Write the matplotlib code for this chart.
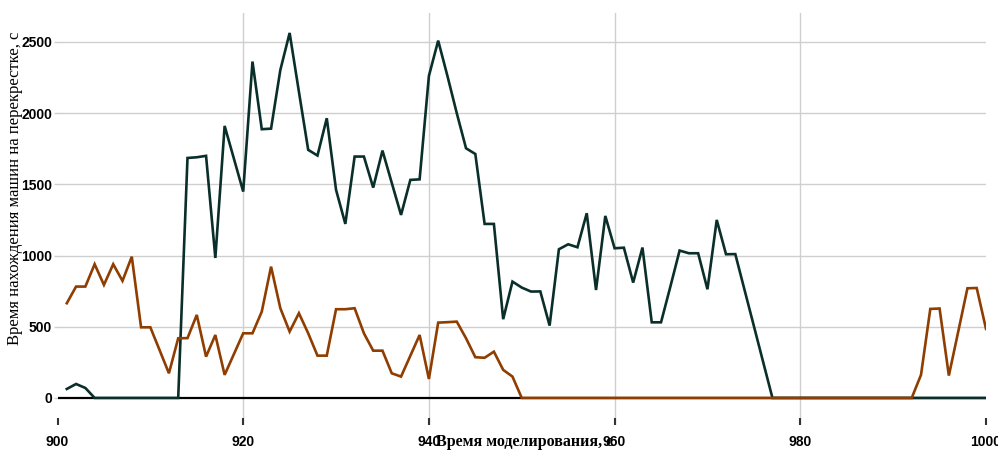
import matplotlib
matplotlib.use("Agg")
import matplotlib.pyplot as plt
import numpy as np

# time axis, seconds
time_s = list(range(901, 1001))

# dark series
dark_values = [63, 98, 70, 0, 0, 0, 0, 0, 0, 0,            # 901-910
               0, 0, 0, 1685, 1690, 1700, 983, 1910, 1680, 1449,   # 911-920
               2362, 1887, 1891, 2303, 2563, 2150, 1742, 1702, 1964, 1461,  # 921-930
               1222, 1695, 1695, 1477, 1737, 1510, 1285, 1531, 1535, 2261,  # 931-940
               2509, 2260, 2000, 1753, 1713, 1222, 1222, 553, 817, 775,    # 941-950
               747, 748, 508, 1044, 1079, 1058, 1297, 758, 1278, 1051,     # 951-960
               1055, 810, 1056, 531, 531, 780, 1035, 1016, 1016, 763,      # 961-970
               1250, 1009, 1010, 757, 505, 252, 0, 0, 0, 0,                # 971-980
               0, 0, 0, 0, 0, 0, 0, 0, 0, 0,                               # 981-990
               0, 0, 0, 0, 0, 0, 0, 0, 0, 0]                               # 991-1000

# orange series
orange_values = [665, 782, 782, 939, 794, 939, 822, 992, 496, 496,   # 901-910
                 335, 173, 419, 420, 583, 290, 442, 162, 308, 454,   # 911-920
                 454, 606, 922, 630, 466, 595, 454, 297, 297, 623,   # 921-930
                 623, 630, 454, 332, 332, 173, 150, 296, 442, 133,   # 931-940
                 529, 532, 536, 419, 286, 282, 325, 197, 150, 0,     # 941-950
                 0, 0, 0, 0, 0, 0, 0, 0, 0, 0,                       # 951-960
                 0, 0, 0, 0, 0, 0, 0, 0, 0, 0,                       # 961-970
                 0, 0, 0, 0, 0, 0, 0, 0, 0, 0,                       # 971-980
                 0, 0, 0, 0, 0, 0, 0, 0, 0, 0,                       # 981-990
                 0, 0, 162, 625, 628, 157, 463, 770, 772, 485]       # 991-1000

x_ticks = [900, 920, 940, 960, 980, 1000]
y_ticks = [0, 500, 1000, 1500, 2000, 2500]
x_label = "Время моделирования, с"
y_label = "Время нахождения машин на перекрестке, с"

fig = plt.figure(figsize=(9.98, 4.51), dpi=100)
ax = fig.add_axes([57.5 / 998, 26 / 451, (986 - 57.5) / 998, (425 - 13) / 451])
ax.set_xlim(900, 1000)
ax.set_ylim(-190, 2703)

for s in ax.spines.values():
    s.set_visible(False)

grid_c = "#cfcfcf"
for yt in y_ticks[1:]:
    ax.axhline(yt, color=grid_c, lw=1.0, zorder=1)
for xt in x_ticks[1:-1]:
    ax.axvline(xt, color=grid_c, lw=1.0, zorder=1)
ax.axhline(0, color="black", lw=1.6, zorder=2)

ax.plot(time_s, dark_values, color="#0a2f2a", lw=1.9, zorder=3,
        solid_joinstyle="miter")
ax.plot(time_s, orange_values, color="#8f3d00", lw=1.9, zorder=4,
        solid_joinstyle="miter")

tick_font = ["Liberation Sans Narrow", "Liberation Sans", "DejaVu Sans"]
ax.set_xticks(x_ticks)
ax.set_yticks(y_ticks)
ax.set_xticklabels([str(v) for v in x_ticks], fontfamily=tick_font,
                   fontweight="bold", fontsize=10)
ax.set_yticklabels([str(v) for v in y_ticks], fontfamily=tick_font,
                   fontweight="bold", fontsize=10)
ax.tick_params(axis="x", direction="in", length=5, width=1.5, color="#333333", pad=7)
ax.tick_params(axis="y", direction="out", length=3, width=1.0, color=grid_c, pad=1)

fig.text(525 / 998, 1 - 442 / 451, x_label, ha="center", va="center",
         fontfamily=["Liberation Serif", "DejaVu Serif"], fontweight="bold",
         fontsize=11.5)
fig.text(15 / 998, 1 - 188 / 451, y_label, ha="center", va="center",
         rotation=90, fontfamily=["Liberation Serif", "DejaVu Serif"],
         fontweight="normal", fontsize=12)

fig.savefig("out.png", dpi=100)
